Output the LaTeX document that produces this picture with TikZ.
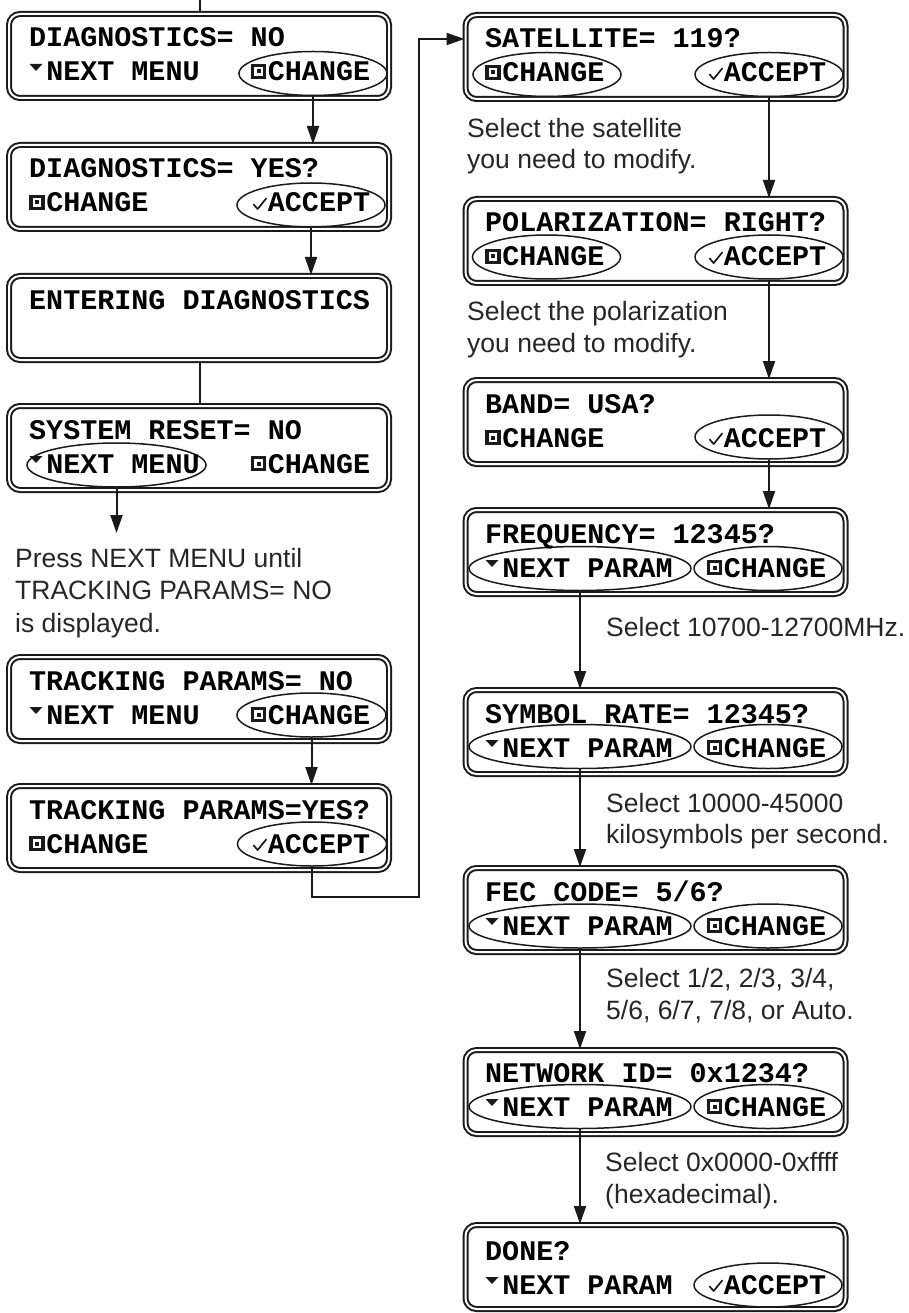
\documentclass[tikz,border=0pt]{standalone}
\usepackage{fontspec}
\setmainfont{Liberation Sans}
\newfontfamily\lcdfont{Liberation Mono}
\usetikzlibrary{shapes.geometric,arrows.meta}
\definecolor{ink}{HTML}{1A1A1A}
\definecolor{notecol}{HTML}{262626}
\newcommand\icTri[2]{\fill[ink] (#1+0.5,#2-17) -- (#1+13.5,#2-17) -- (#1+7,#2-10) -- cycle;}
\newcommand\icSq[2]{\draw[ink,line width=3.2pt] (#1+2,#2-15.5) rectangle (#1+14,#2-3.5); \fill[ink] (#1+6,#2-11.5) rectangle (#1+10,#2-7.5);}
\newcommand\icChk[2]{\draw[ink,line width=1.7pt,line cap=round,line join=round] (#1+3,#2-7.5) -- (#1+7,#2-3) -- (#1+15.5,#2-13.5);}
\tikzset{
 lcd/.style={rectangle, draw=ink, line width=2pt, double=white, double distance=2pt, rounded corners=11pt, minimum width=380pt, minimum height=84pt, inner sep=0pt},
 btn/.style={ellipse, draw=ink, line width=1.5pt, inner sep=0pt, minimum height=44pt},
 mono/.style={anchor=base west, inner sep=0pt, font=\lcdfont\bfseries\fontsize{28.4}{30}\selectfont, text=black},
 note/.style={anchor=base west, inner sep=0pt, font=\fontsize{26.5}{32}\selectfont, text=notecol},
 arr/.style={draw=ink, line width=2pt, -{Triangle[length=18pt,width=12pt]}},
 con/.style={draw=ink, line width=2pt},
}
\begin{document}
\begin{tikzpicture}[x=1pt,y=-1pt]
\useasboundingbox (0,0) rectangle (908,1313);
% ---------- left column ----------
\node[lcd] (L1) at (199,56) {};
\node[btn, minimum width=148pt] (L1c) at (313,73.5) {};
\node[mono] (L1t) at (29,47) {DIAGNOSTICS= NO};
\icTri{29}{81}
\node[mono] (L1n) at (46.05,81) {NEXT MENU};
\icSq{250.65}{81}
\node[mono] (L1g) at (267.7,81) {CHANGE};

\node[lcd] (L2) at (199,187) {};
\node[btn, minimum width=148pt] (L2a) at (311,205) {};
\node[mono] (L2t) at (29,178) {DIAGNOSTICS= YES?};
\icSq{29}{212}
\node[mono] (L2g) at (46.05,212) {CHANGE};
\icChk{250.65}{212}
\node[mono] (L2k) at (267.7,212) {ACCEPT};

\node[lcd] (L3) at (199,318) {};
\node[mono] (L3t) at (29,309) {ENTERING DIAGNOSTICS};

\node[lcd] (L4) at (199,448) {};
\node[btn, minimum width=179pt] (L4n) at (116.5,465) {};
\node[mono] (L4t) at (29,439) {SYSTEM RESET= NO};
\icTri{29}{473}
\node[mono] (L4m) at (46.05,473) {NEXT MENU};
\icSq{250.65}{473}
\node[mono] (L4g) at (267.7,473) {CHANGE};

\node[note] (P1) at (15,567) {Press NEXT MENU until};
\node[note] (P2) at (15,599) {TRACKING PARAMS= NO};
\node[note] (P3) at (15,632) {is displayed.};

\node[lcd] (L5) at (199,699) {};
\node[btn, minimum width=149pt] (L5c) at (311.5,715) {};
\node[mono] (L5t) at (29,690) {TRACKING PARAMS= NO};
\icTri{29}{724}
\node[mono] (L5m) at (46.05,724) {NEXT MENU};
\icSq{250.65}{724}
\node[mono] (L5g) at (267.7,724) {CHANGE};

\node[lcd] (L6) at (199,828) {};
\node[btn, minimum width=149pt] (L6a) at (312,844) {};
\node[mono] (L6t) at (29,819) {TRACKING PARAMS=YES?};
\icSq{29}{853}
\node[mono] (L6g) at (46.05,853) {CHANGE};
\icChk{250.65}{853}
\node[mono] (L6k) at (267.7,853) {ACCEPT};

% ---------- right column ----------
\node[lcd] (R1) at (655.5,57) {};
\node[btn, minimum width=148pt] (R1c) at (547,74.5) {};
\node[btn, minimum width=148pt] (R1a) at (769,74.5) {};
\node[mono] (R1t) at (485,48) {SATELLITE= 119?};
\icSq{485}{82}
\node[mono] (R1g) at (502.05,82) {CHANGE};
\icChk{706.65}{82}
\node[mono] (R1k) at (723.7,82) {ACCEPT};
\node[note] (S1) at (467,138) {Select the satellite};
\node[note] (S2) at (467,169) {you need to modify.};

\node[lcd] (R2) at (655.5,241) {};
\node[btn, minimum width=148pt] (R2c) at (546.5,257) {};
\node[btn, minimum width=148pt] (R2a) at (769,257) {};
\node[mono] (R2t) at (485,232) {POLARIZATION= RIGHT?};
\icSq{485}{266}
\node[mono] (R2g) at (502.05,266) {CHANGE};
\icChk{706.65}{266}
\node[mono] (R2k) at (723.7,266) {ACCEPT};
\node[note] (S3) at (467,320) {Select the polarization};
\node[note] (S4) at (467,352) {you need to modify.};

\node[lcd] (R3) at (655.5,422) {};
\node[btn, minimum width=148pt] (R3a) at (769,437) {};
\node[mono] (R3t) at (485,413) {BAND= USA?};
\icSq{485}{447}
\node[mono] (R3g) at (502.05,447) {CHANGE};
\icChk{706.65}{447}
\node[mono] (R3k) at (723.7,447) {ACCEPT};

\node[lcd] (R4) at (655.5,552) {};
\node[btn, minimum width=222pt] (R4n) at (580,568.5) {};
\node[btn, minimum width=148pt] (R4c) at (768,568.5) {};
\node[mono] (R4t) at (485,543) {FREQUENCY= 12345?};
\icTri{485}{577}
\node[mono] (R4m) at (502.05,577) {NEXT PARAM};
\icSq{706.65}{577}
\node[mono] (R4g) at (723.7,577) {CHANGE};
\node[note] (F1) at (606,636) {Select 10700-12700MHz.};

\node[lcd] (R5) at (655.5,732) {};
\node[btn, minimum width=222pt] (R5n) at (580,746.5) {};
\node[btn, minimum width=148pt] (R5c) at (768,746.5) {};
\node[mono] (R5t) at (485,723) {SYMBOL RATE= 12345?};
\icTri{485}{757}
\node[mono] (R5m) at (502.05,757) {NEXT PARAM};
\icSq{706.65}{757}
\node[mono] (R5g) at (723.7,757) {CHANGE};
\node[note] (Y1) at (606,812) {Select 10000-45000};
\node[note] (Y2) at (606,843) {kilosymbols per second.};

\node[lcd] (R6) at (655.5,910) {};
\node[btn, minimum width=222pt] (R6n) at (580,926) {};
\node[btn, minimum width=148pt] (R6c) at (768,926) {};
\node[mono] (R6t) at (485,901) {FEC CODE= 5/6?};
\icTri{485}{935}
\node[mono] (R6m) at (502.05,935) {NEXT PARAM};
\icSq{706.65}{935}
\node[mono] (R6g) at (723.7,935) {CHANGE};
\node[note] (C1) at (606,987) {Select 1/2, 2/3, 3/4,};
\node[note] (C2) at (606,1019) {5/6, 6/7, 7/8, or Auto.};

\node[lcd] (R7) at (655.5,1092) {};
\node[btn, minimum width=222pt] (R7n) at (580,1106.5) {};
\node[btn, minimum width=148pt] (R7c) at (768,1106.5) {};
\node[mono] (R7t) at (485,1082) {NETWORK ID= 0x1234?};
\icTri{485}{1116}
\node[mono] (R7m) at (502.05,1116) {NEXT PARAM};
\icSq{706.65}{1116}
\node[mono] (R7g) at (723.7,1116) {CHANGE};
\node[note] (H1) at (605,1171) {Select 0x0000-0xffff};
\node[note] (H2) at (605,1203) {(hexadecimal).};

\node[lcd] (R8) at (655.5,1267) {};
\node[btn, minimum width=148pt] (R8a) at (768,1285) {};
\node[mono] (R8t) at (485,1260) {DONE?};
\icTri{485}{1294}
\node[mono] (R8m) at (502.05,1294) {NEXT PARAM};
\icChk{706.65}{1294}
\node[mono] (R8k) at (723.7,1294) {ACCEPT};

% ---------- connectors ----------
\coordinate (top) at (200,0);
\draw[con] (top) -- (top |- L1.north);
\draw[arr] (L1c.south) -- (L1c.south |- L2.north);
\draw[arr] (L2a.south) -- (L2a.south |- L3.north);
\draw[con] ([xshift=1pt]L3.south) -- ([xshift=1pt]L4.north);
\coordinate (press) at (116.5,533);
\draw[arr] (L4n.south) -- (press);
\draw[arr] (L5c.south) -- (L5c.south |- L6.north);
\coordinate (bend) at (419,897);
\draw[arr] (L6a.south) |- (bend) |- ([yshift=18pt]R1.west);
\draw[arr] (R1a.south) -- (R1a.south |- R2.north);
\draw[arr] (R2a.south) -- (R2a.south |- R3.north);
\draw[arr] (R3a.south) -- (R3a.south |- R4.north);
\draw[arr] (R4n.south) -- (R4n.south |- R5.north);
\draw[arr] (R5n.south) -- (R5n.south |- R6.north);
\draw[arr] (R6n.south) -- (R6n.south |- R7.north);
\draw[arr] (R7n.south) -- (R7n.south |- R8.north);
\end{tikzpicture}
\end{document}
